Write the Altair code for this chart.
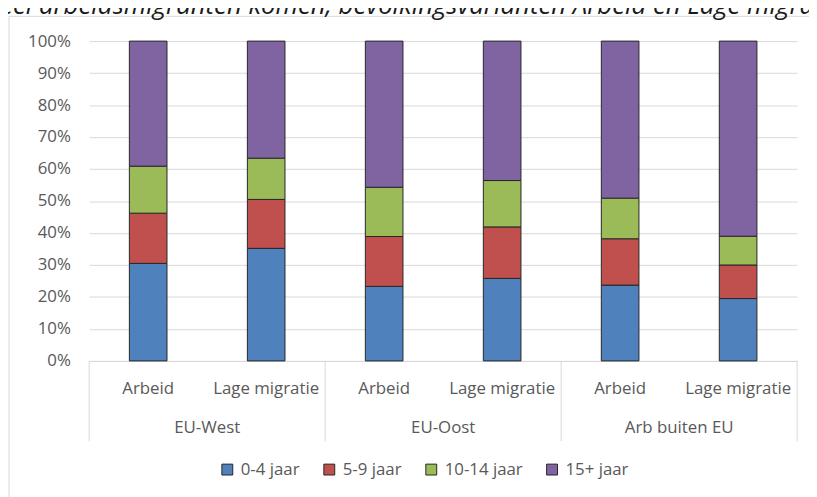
import altair as alt
import pandas as pd

# ---- data ----
regions = ["EU-West", "EU-West", "EU-Oost", "EU-Oost", "Arb buiten EU", "Arb buiten EU"]
variants = ["Arbeid", "Lage migratie", "Arbeid", "Lage migratie", "Arbeid", "Lage migratie"]
series = ["0-4 jaar", "5-9 jaar", "10-14 jaar", "15+ jaar"]
v_0_4 = [30.5, 35.2, 23.3, 25.8, 23.7, 19.5]
v_5_9 = [15.7, 15.3, 15.6, 16.1, 14.5, 10.5]
v_10_14 = [14.7, 12.9, 15.4, 14.5, 12.7, 9.0]
v_15p = [39.1, 36.6, 45.7, 43.6, 49.1, 61.0]
colors = ["#4F81BD", "#C0504D", "#9BBB59", "#8064A2"]
y_ticks = [0, 0.1, 0.2, 0.3, 0.4, 0.5, 0.6, 0.7, 0.8, 0.9, 1.0]
title_text = ["eel arbeidsmigranten komen, bevolkingsvarianten Arbeid en Lage migra"]

# ---- tables ----
keys = [f"{r}|{v}" for r, v in zip(regions, variants)]
rows = []
for si, (name, vals) in enumerate(zip(series, [v_0_4, v_5_9, v_10_14, v_15p])):
    for k, r, v, val in zip(keys, regions, variants, vals):
        rows.append({"key": k, "region": r, "variant": v, "series": name, "sidx": si, "value": val})
df = pd.DataFrame(rows)
cat_df = pd.DataFrame({"key": keys, "region": regions, "variant": variants})
grp_df = cat_df[cat_df["variant"] == "Arbeid"].reset_index(drop=True)
last_df = cat_df.iloc[[-1]].reset_index(drop=True)

GREY = "#595959"
LINE = "#d9d9d9"
FONT = "Open Sans"

xscale = alt.Scale(domain=keys, paddingInner=0, paddingOuter=0)
xaxis = alt.Axis(labels=False, ticks=False, title=None, grid=False, domainColor=LINE)


def xe(**kw):
    return alt.X("key:N", scale=xscale, axis=xaxis, **kw)


bars = alt.Chart(df).mark_bar(size=38, stroke="#262626", strokeWidth=1).encode(
    x=xe(),
    y=alt.Y(
        "value:Q",
        stack="normalize",
        scale=alt.Scale(domain=[0, 1]),
        axis=alt.Axis(
            format=".0%", values=y_ticks, domain=False, ticks=False, labelPadding=19,
            labelFont=FONT, labelFontSize=17, labelColor=GREY, gridColor=LINE, title=None,
        ),
    ),
    color=alt.Color(
        "series:N",
        scale=alt.Scale(domain=series, range=colors),
        legend=alt.Legend(
            title=None, orient="none", legendX=131, legendY=424, direction="horizontal",
            symbolType="square", symbolSize=121, symbolStrokeColor="#262626",
            symbolStrokeWidth=1, labelFont=FONT, labelFontSize=17, labelColor=GREY,
            labelOffset=5, columnPadding=21, padding=0,
        ),
    ),
    order=alt.Order("sidx:Q", sort="ascending"),
)

cat_labels = alt.Chart(cat_df).mark_text(
    font=FONT, fontSize=17, color=GREY, baseline="middle"
).encode(x=xe(), y=alt.value(351), text="variant:N")

grp_labels = alt.Chart(grp_df).mark_text(
    font=FONT, fontSize=17, color=GREY, baseline="middle", dx=59.6
).encode(x=xe(), y=alt.value(391), text="region:N")

seps = alt.Chart(grp_df).mark_rule(color=LINE, strokeWidth=1).encode(
    x=xe(bandPosition=0), y=alt.value(323), y2=alt.value(404)
)
sep_end = alt.Chart(last_df).mark_rule(color=LINE, strokeWidth=1).encode(
    x=xe(bandPosition=1), y=alt.value(323), y2=alt.value(404)
)

border = alt.Chart(pd.DataFrame({"a": [0]})).mark_rect(
    filled=False, stroke=LINE, strokeWidth=1
).encode(x=alt.value(-81), x2=alt.value(745), y=alt.value(-25), y2=alt.value(480))

title = alt.Chart(pd.DataFrame({"t": title_text})).mark_text(
    font=FONT, fontSize=26, fontStyle="italic", color="#1a1a1a", align="left", baseline="alphabetic"
).encode(x=alt.value(-90), y=alt.value(-27), text="t:N")

chart = alt.layer(border, title, bars, seps, sep_end, cat_labels, grp_labels).properties(
    width=715,
    height=323,
    autosize=alt.AutoSizeParams(type="none"),
    padding={"left": 82, "top": 31, "right": 12, "bottom": 135},
    background="white",
).configure_view(strokeWidth=0)

chart.save("out.html", embed_options={"renderer": "svg", "actions": False})
